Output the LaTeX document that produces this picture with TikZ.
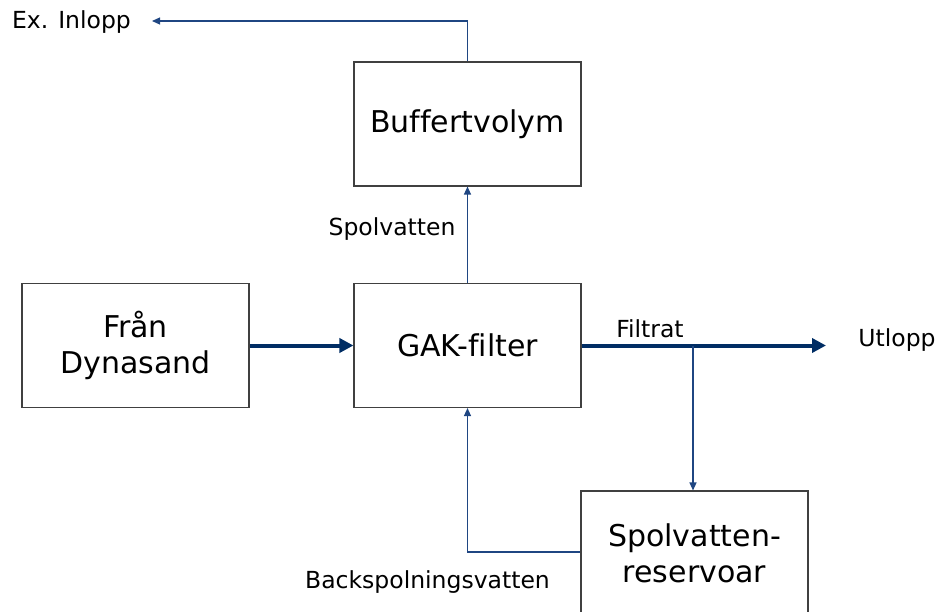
\documentclass[tikz,border=0pt]{standalone}
\usepackage{fontspec}
\setmainfont{DejaVu Sans}[Ligatures={NoCommon}]
\usetikzlibrary{arrows.meta}
\definecolor{navy}{RGB}{0,45,100}
\definecolor{flowblue}{RGB}{31,70,130}
\definecolor{boxline}{RGB}{64,64,64}
\tikzset{
  box/.style={draw=boxline, line width=1.1pt, minimum width=227pt, minimum height=124pt,
    inner sep=0pt, align=center, font=\fontsize{30}{36}\selectfont},
  lbl/.style={inner sep=0pt, font=\fontsize{23.5}{28}\selectfont},
  mainflow/.style={draw=navy, line width=4pt, -{Triangle[length=14pt, width=14pt]}},
  sideflow/.style={draw=flowblue, line width=1.2pt, -{Triangle[length=8pt, width=7pt]}}
}
\begin{document}
\begin{tikzpicture}[x=1pt, y=-1pt]
  \useasboundingbox (0,0) rectangle (937,612);

  % process blocks
  \node[box] (buf) at (467.5,124) {Buffertvolym};
  \node[box] (gak) at (467.5,345.5) {GAK-filter};
  \node[box] (fran) at (135.5,345.5) {Från\\Dynasand};
  \node[box, minimum height=125pt] (res) at (694.5,553.5) {Spolvatten-\\reservoar};

  % free labels
  \node[lbl] (exin) at (71.5,22) {Ex. Inlopp};
  \node[lbl] (utlopp) at (897,340) {Utlopp};
  \node[lbl] (filtrat) at (650,329) {Filtrat};
  \node[lbl] (spol) at (392,229) {Spolvatten};
  \node[lbl] (back) at (427.5,582) {Backspolningsvatten};

  % connector end points
  \coordinate (exintip) at (152,21);
  \coordinate (outtip) at (826,345.5);
  \coordinate (split) at (693,345.5);
  \coordinate (bend) at (467.5,552);

  % main flow
  \draw[mainflow] (fran.east) -- (gak.west);
  \draw[mainflow] (gak.east) -- (outtip);

  % rinse water loop
  \draw[sideflow] (split) -- (split |- res.north);
  \draw[sideflow] (res.west |- bend) -- (bend) -- (gak.south);
  \draw[sideflow] (gak.north) -- (buf.south);
  \draw[sideflow] (buf.north) |- (exintip);
\end{tikzpicture}
\end{document}
